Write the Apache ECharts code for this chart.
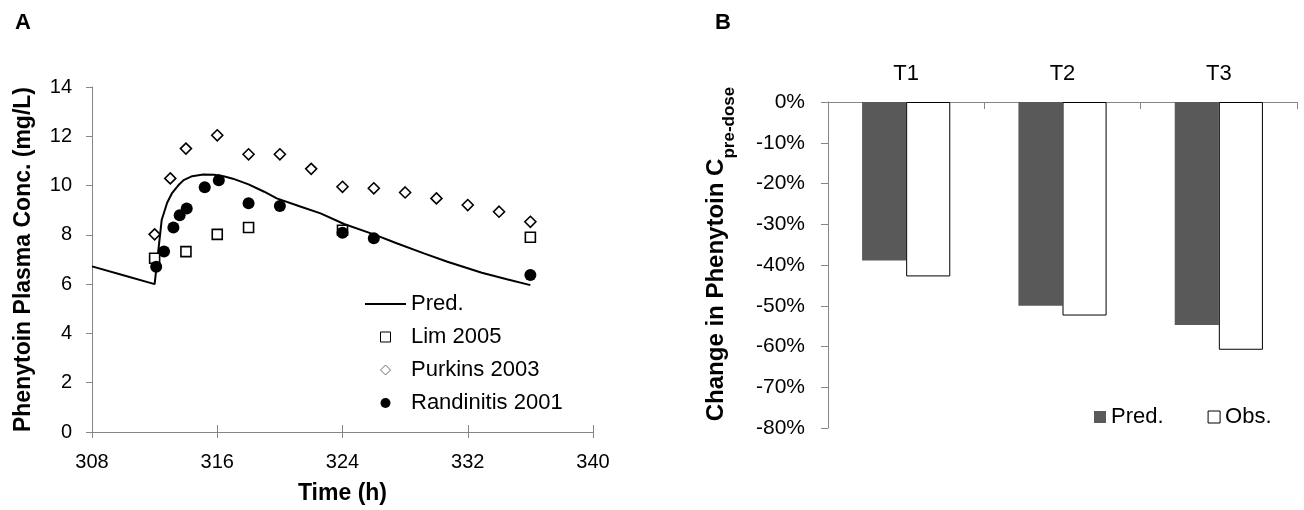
<!DOCTYPE html>
<html>
<head>
<meta charset="utf-8">
<script src="https://cdn.jsdelivr.net/npm/echarts@6/dist/echarts.min.js"></script>
<style>
  html, body { margin: 0; padding: 0; background: #fff; }
  #chart { width: 1304px; height: 510px; }
</style>
</head>
<body>
<div id="chart"></div>
<script>
// ---- Panel A: phenytoin plasma concentration (mg/L) over time (h) ----
const predTime = [308, 310, 312, 312.45, 312.8, 313.1, 313.5, 313.85, 314.4, 315.1, 315.8, 316.4, 317, 318, 319, 319.8, 321.3, 322.6, 324.1, 326, 327.5, 329.2, 330.7, 332.9, 334.5, 336];
const predConc = [6.72, 6.36, 6.0, 8.6, 9.3, 9.68, 10.0, 10.22, 10.38, 10.45, 10.44, 10.38, 10.28, 10.05, 9.75, 9.48, 9.15, 8.87, 8.44, 8.02, 7.65, 7.25, 6.91, 6.46, 6.2, 5.96];

const limTime = [312, 314, 316, 318, 324, 336];
const limConc = [7.05, 7.32, 8.02, 8.30, 8.19, 7.90];

const purkinsTime = [312, 313, 314, 316, 318, 320, 322, 324, 326, 328, 330, 332, 334, 336];
const purkinsConc = [8.02, 10.29, 11.5, 12.04, 11.27, 11.27, 10.68, 9.95, 9.89, 9.72, 9.48, 9.21, 8.94, 8.53];

const randTime = [312.1, 312.6, 313.2, 313.6, 314.05, 315.2, 316.1, 318, 320, 324, 326, 336];
const randConc = [6.71, 7.32, 8.30, 8.80, 9.07, 9.93, 10.22, 9.28, 9.17, 8.09, 7.86, 6.37];

const timeTicks = [308, 316, 324, 332, 340];

// ---- Panel B: change in phenytoin pre-dose concentration (%) ----
const periods = ['T1', 'T2', 'T3'];
const predChange = [-38.9, -50.0, -54.7];
const obsChange = [-42.8, -52.4, -60.8];

const FONT = '"Liberation Sans", Arial, sans-serif';
const AXIS_GREY = '#868686';
const pairs = (xs, ys) => xs.map((x, i) => [x, ys[i]]);
const barLabels = { predBar: 'Pred.', obsBar: 'Obs.' };

const chart = echarts.init(document.getElementById('chart'), null, { renderer: 'canvas' });

const option = {
  animation: false,
  backgroundColor: '#fff',
  textStyle: { fontFamily: FONT, color: '#000' },
  graphic: [
    { type: 'text', left: 15, top: 12, style: { text: 'A', fontSize: 22, fontWeight: 'bold', fontFamily: FONT, fill: '#000' } },
    { type: 'text', left: 715, top: 12, style: { text: 'B', fontSize: 22, fontWeight: 'bold', fontFamily: FONT, fill: '#000' } }
  ],
  grid: [
    { left: 92, top: 87, width: 501, height: 345, containLabel: false, outerBoundsMode: 'none' },
    { left: 828, top: 102, width: 469, height: 326, containLabel: false, outerBoundsMode: 'none' }
  ],
  xAxis: [
    {
      gridIndex: 0, type: 'value', position: 'bottom',
      min: timeTicks[0], max: timeTicks[timeTicks.length - 1],
      name: 'Time (h)', nameLocation: 'middle', nameGap: 50,
      nameTextStyle: { fontSize: 23, fontWeight: 'bold', color: '#000', fontFamily: FONT },
      axisLine: { show: true, lineStyle: { color: AXIS_GREY, width: 1 } },
      axisTick: { show: true, inside: false, length: 6, customValues: timeTicks, lineStyle: { color: AXIS_GREY } },
      axisLabel: { customValues: timeTicks, fontSize: 20, color: '#000', margin: 20, fontFamily: FONT },
      splitLine: { show: false }
    },
    {
      // upper half of the crossing tick marks on the time axis
      gridIndex: 0, type: 'value', position: 'bottom',
      min: timeTicks[0], max: timeTicks[timeTicks.length - 1],
      axisLine: { show: false },
      axisTick: { show: true, inside: true, length: 7, customValues: timeTicks, lineStyle: { color: AXIS_GREY } },
      axisLabel: { show: false },
      splitLine: { show: false }
    },
    {
      gridIndex: 1, type: 'category', position: 'top', data: periods,
      axisLine: { show: true, onZero: false, lineStyle: { color: AXIS_GREY, width: 1 } },
      axisTick: { show: true, inside: true, length: 7, alignWithLabel: false, lineStyle: { color: AXIS_GREY } },
      axisLabel: { fontSize: 22, color: '#000', margin: 17, fontFamily: FONT },
      splitLine: { show: false }
    }
  ],
  yAxis: [
    {
      gridIndex: 0, type: 'value', min: 0, max: 14, interval: 2,
      name: 'Phenytoin Plasma Conc. (mg/L)', nameLocation: 'middle', nameGap: 57,
      nameTextStyle: { fontSize: 23, fontWeight: 'bold', color: '#000', fontFamily: FONT },
      axisLine: { show: true, lineStyle: { color: AXIS_GREY, width: 1 } },
      axisTick: { show: true, inside: false, length: 6, lineStyle: { color: AXIS_GREY } },
      axisLabel: { fontSize: 20, color: '#000', margin: 20, fontFamily: FONT },
      splitLine: { show: false }
    },
    {
      gridIndex: 1, type: 'value', min: -80, max: 0, interval: 10,
      name: '{m|Change in Phenytoin C}{s|pre-dose}', nameLocation: 'middle', nameGap: 90,
      nameTextStyle: {
        color: '#000',
        padding: [0, 0, 0, 22],
        rich: {
          m: { fontSize: 24, fontWeight: 'bold', fontFamily: FONT, lineHeight: 44, color: '#000' },
          s: { fontSize: 17, fontWeight: 'bold', fontFamily: FONT, lineHeight: 44, verticalAlign: 'bottom', color: '#000' }
        }
      },
      axisLine: { show: true, lineStyle: { color: AXIS_GREY, width: 1 } },
      axisTick: { show: true, inside: false, length: 7, lineStyle: { color: AXIS_GREY } },
      axisLabel: { formatter: '{value}%', fontSize: 21, color: '#000', margin: 23, fontFamily: FONT },
      splitLine: { show: false }
    }
  ],
  legend: [
    {
      orient: 'vertical', left: 365, top: 293, padding: 0,
      itemWidth: 41, itemHeight: 10, itemGap: 11, symbolKeepAspect: true,
      textStyle: { fontSize: 22, color: '#000', fontFamily: FONT },
      data: [
        { name: 'Pred.', icon: 'path://M0,0 H41 V2 H0 Z', itemStyle: { color: '#000', borderWidth: 0 } },
        { name: 'Lim 2005', icon: 'path://M0,0 H10 V10 H0 Z', itemStyle: { color: '#fff', borderColor: '#000', borderWidth: 1 } },
        { name: 'Purkins 2003', icon: 'path://M5,0 L10,5 L5,10 L0,5 Z', itemStyle: { color: '#fff', borderColor: '#6e6e6e', borderWidth: 1 } },
        { name: 'Randinitis 2001', icon: 'circle', itemStyle: { color: '#000', borderWidth: 0 } }
      ]
    },
    {
      orient: 'horizontal', left: 1094, top: 406, padding: 0,
      itemWidth: 12, itemHeight: 12, itemGap: 44, icon: 'rect',
      formatter: name => barLabels[name],
      textStyle: { fontSize: 22, color: '#000', fontFamily: FONT },
      data: [
        { name: 'predBar', itemStyle: { color: '#595959', borderWidth: 0 } },
        { name: 'obsBar', itemStyle: { color: '#fff', borderColor: '#000', borderWidth: 1 } }
      ]
    }
  ],
  series: [
    {
      name: 'Pred.', type: 'line', xAxisIndex: 0, yAxisIndex: 0,
      data: pairs(predTime, predConc), symbol: 'none', color: '#000',
      lineStyle: { color: '#000', width: 2 }, z: 2
    },
    {
      name: 'Lim 2005', type: 'scatter', xAxisIndex: 0, yAxisIndex: 0,
      data: pairs(limTime, limConc), symbol: 'rect', symbolSize: 10,
      itemStyle: { color: '#fff', borderColor: '#000', borderWidth: 1.6, opacity: 1 }, z: 3
    },
    {
      name: 'Purkins 2003', type: 'scatter', xAxisIndex: 0, yAxisIndex: 0,
      data: pairs(purkinsTime, purkinsConc), symbol: 'diamond', symbolSize: 11,
      itemStyle: { color: '#fff', borderColor: '#000', borderWidth: 1.6, opacity: 1 }, z: 3
    },
    {
      name: 'Randinitis 2001', type: 'scatter', xAxisIndex: 0, yAxisIndex: 0,
      data: pairs(randTime, randConc), symbol: 'circle', symbolSize: 12,
      itemStyle: { color: '#000', opacity: 1 }, z: 4
    },
    {
      name: 'predBar', type: 'bar', xAxisIndex: 2, yAxisIndex: 1,
      data: predChange, barGap: '0%', barCategoryGap: '43.6%',
      itemStyle: { color: '#595959', borderColor: '#595959', borderWidth: 0 }
    },
    {
      name: 'obsBar', type: 'bar', xAxisIndex: 2, yAxisIndex: 1,
      data: obsChange, barGap: '0%', barCategoryGap: '43.6%',
      itemStyle: { color: '#fff', borderColor: '#000', borderWidth: 1 }
    }
  ]
};

chart.setOption(option);
</script>
</body>
</html>
